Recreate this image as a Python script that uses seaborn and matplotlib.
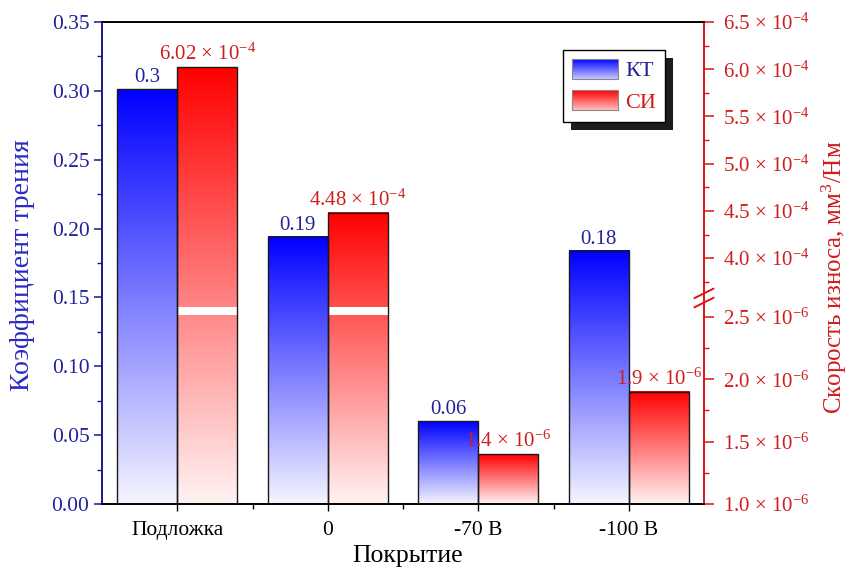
import numpy as np
import pandas as pd
import matplotlib
matplotlib.use("Agg")
import matplotlib.pyplot as plt
import seaborn as sns
from matplotlib.colors import LinearSegmentedColormap
from matplotlib.patches import Rectangle
from matplotlib.legend_handler import HandlerBase
from matplotlib.transforms import IdentityTransform
from matplotlib.ticker import FixedLocator, FuncFormatter, MultipleLocator
from matplotlib.lines import Line2D

# ---------------- data ----------------
categories = ["Подложка", "0", "-70 В", "-100 В"]
series = ["КТ", "СИ"]
kt_values = [0.301, 0.194, 0.060, 0.184]
kt_labels = ["0.3", "0.19", "0.06", "0.18"]
si_values = [6.02e-4, 4.48e-4, 1.4e-6, 1.9e-6]
si_labels = [r"6.02 × 10$^{-4}$", r"4.48 × 10$^{-4}$", r"1.4 × 10$^{-6}$", r"1.9 × 10$^{-6}$"]
left_ticks = [0.00, 0.05, 0.10, 0.15, 0.20, 0.25, 0.30, 0.35]
right_ticks = [1.0e-6, 1.5e-6, 2.0e-6, 2.5e-6, 4.0e-4, 4.5e-4, 5.0e-4, 5.5e-4, 6.0e-4, 6.5e-4]
right_minor = [1.25e-6, 1.75e-6, 2.25e-6, 3.75e-4, 4.25e-4, 4.75e-4, 5.25e-4, 5.75e-4, 6.25e-4]

# ---------------- style ----------------
sns.set_style("ticks")
plt.rcParams["font.family"] = ["Liberation Serif", "DejaVu Serif"]
plt.rcParams["mathtext.fontset"] = "custom"
plt.rcParams["mathtext.rm"] = "Liberation Serif"
plt.rcParams["mathtext.it"] = "Liberation Serif:italic"
plt.rcParams["axes.unicode_minus"] = True

NAVY = "#22229a"
NAVY_SP = "#1a1a86"
NAVY_LAB = "#2a2ac4"
RED = "#cf1d1d"
RED_SP = "#dd1414"

# broken right axis: piecewise-linear scale
LO0, LO1 = 1.0e-6, 2.5e-6
HI0, HI1 = 3.75e-4, 6.5e-4
F_LO1 = 0.388
F_HI_TICK = 0.510          # position of 4.0e-4
S_LO = F_LO1 / (LO1 - LO0)
S_HI = (1.0 - F_HI_TICK) / (HI1 - 4.0e-4)
F_HI0 = 1.0 - (HI1 - HI0) * S_HI


def fwd(v):
    v = np.asarray(v, dtype=float)
    lo = (v - LO0) * S_LO
    hi = 1.0 - (HI1 - v) * S_HI
    mid = F_LO1 + (v - LO1) / (HI0 - LO1) * (F_HI0 - F_LO1)
    return np.where(v <= LO1, lo, np.where(v >= HI0, hi, mid))


def inv(f):
    f = np.asarray(f, dtype=float)
    lo = LO0 + f / S_LO
    hi = HI1 - (1.0 - f) / S_HI
    mid = LO1 + (f - F_LO1) / (F_HI0 - F_LO1) * (HI0 - LO1)
    return np.where(f <= F_LO1, lo, np.where(f >= F_HI0, hi, mid))


df = pd.DataFrame({
    "Покрытие": categories * 2,
    "series": [series[0]] * len(categories) + [series[1]] * len(categories),
    "value": kt_values + si_values,
})

fig = plt.figure(figsize=(8.51, 5.72), dpi=100)
ax = fig.add_axes([102 / 851, 1 - 504 / 572, 602 / 851, 482 / 572])
ax2 = ax.twinx()
ax2.set_yscale("function", functions=(fwd, inv))

pal = {"КТ": "#0000ff", "СИ": "#ff0000"}
sns.barplot(data=df[df.series == "КТ"], x="Покрытие", y="value", hue="series",
            hue_order=series, order=categories, palette=pal, ax=ax, width=0.8,
            dodge=True, legend=False, errorbar=None)
sns.barplot(data=df[df.series == "СИ"], x="Покрытие", y="value", hue="series",
            hue_order=series, order=categories, palette=pal, ax=ax2, width=0.8,
            dodge=True, legend=False, errorbar=None)

YMAX = 0.35
blue_cmap = LinearSegmentedColormap.from_list("b", ["#f5f5ff", "#0000ff"])
red_cmap = LinearSegmentedColormap.from_list("r", ["#fff3f3", "#ff0000"])
grad = np.linspace(0, 1, 256).reshape(-1, 1)

GAP0, GAP1 = 0.392, 0.409  # white break band in axes fraction

kt_bars = list(ax.patches)
si_bars = list(ax2.patches)

VAL_FS = 15
for p, lab in zip(kt_bars, kt_labels):
    x, w, h = p.get_x(), p.get_width(), p.get_height()
    ax.imshow(grad, extent=[x, x + w, 0, h], origin="lower", aspect="auto",
              cmap=blue_cmap, zorder=0.5, interpolation="bilinear")
    p.set_facecolor("none")
    p.set_edgecolor("#1a1a1a")
    p.set_linewidth(1.0)
    p.set_zorder(2)
    ax.annotate(lab, (x + w / 2, h), xytext=(0, 1.5), textcoords="offset points",
                ha="center", va="bottom", color=NAVY, fontsize=VAL_FS)

for p, lab in zip(si_bars, si_labels):
    x, w = p.get_x(), p.get_width()
    top = p.get_y() + p.get_height()
    ftop = float(fwd(top))
    ax.imshow(grad, extent=[x, x + w, 0, ftop * YMAX], origin="lower", aspect="auto",
              cmap=red_cmap, zorder=0.5, interpolation="bilinear")
    if ftop > GAP1:
        ax.add_patch(Rectangle((x, GAP0 * YMAX), w, (GAP1 - GAP0) * YMAX,
                               facecolor="white", edgecolor="none", zorder=1.5))
    p.set_facecolor("none")
    p.set_edgecolor("#1a1a1a")
    p.set_linewidth(1.0)
    p.set_zorder(2)
    ax2.annotate(lab, (x + w / 2, top), xytext=(0, 1.5), textcoords="offset points",
                 ha="center", va="bottom", color=RED, fontsize=VAL_FS)

# limits
ax.set_xlim(-0.5, len(categories) - 0.5)
ax.set_ylim(0, YMAX)
ax2.set_ylim(right_ticks[0], right_ticks[-1])

# left axis
ax.yaxis.set_major_locator(FixedLocator(left_ticks))
ax.yaxis.set_major_formatter(FuncFormatter(lambda v, p: f"{v:.2f}"))
ax.yaxis.set_minor_locator(MultipleLocator(0.025))
ax.tick_params(axis="y", which="major", direction="out", length=6, width=1.1,
               color=NAVY_SP, labelcolor=NAVY, labelsize=15.5, pad=3)
ax.tick_params(axis="y", which="minor", direction="out", length=3.5, width=1.0,
               color=NAVY_SP)
ax.set_ylabel("Коэффициент трения", color=NAVY_LAB, fontsize=20)
ax.yaxis.set_label_coords(-0.111, 0.496)

# x axis
ax.set_xticks(range(len(categories)))
ax.set_xticklabels(categories)
ax.set_xticks([0.5, 1.5, 2.5], minor=True)
ax.tick_params(axis="x", which="major", direction="out", length=5, width=1.0,
               color="black", labelcolor="black", labelsize=15.5, pad=7)
ax.tick_params(axis="x", which="minor", direction="out", length=3.5, width=1.0,
               color="black")
ax.set_xlabel("Покрытие", fontsize=18.5, color="black")
ax.xaxis.set_label_coords(0.507, -0.085)


# right axis
def sci_fmt(v, pos=None):
    e = int(np.floor(np.log10(v) + 1e-9))
    m = v / 10 ** e
    return f"{m:.1f} × 10$^{{{e}}}$"


ax2.yaxis.set_major_locator(FixedLocator(right_ticks))
ax2.yaxis.set_major_formatter(FuncFormatter(sci_fmt))
ax2.yaxis.set_minor_locator(FixedLocator(right_minor))
ax2.tick_params(axis="y", which="major", direction="out", length=7, width=1.1,
                color=RED_SP, labelcolor=RED, labelsize=15, pad=7)
ax2.tick_params(axis="y", which="minor", direction="out", length=3.5, width=1.0,
                color=RED_SP)
ax2.set_ylabel("Скорость износа, мм$^3$/Нм", color=RED, fontsize=18, rotation=90)
ax2.yaxis.set_label_coords(1.193, 0.471)

# spines
for a in (ax, ax2):
    for s in a.spines.values():
        s.set_linewidth(1.2)
        s.set_color("black")
ax.spines["left"].set_color(NAVY_SP)
ax2.spines["left"].set_color(NAVY_SP)
ax2.spines["right"].set_color(RED_SP)
ax.spines["right"].set_color(RED_SP)

# break marks on right spine
for yc in (0.418, 0.437):
    ax2.add_line(Line2D([1 - 0.016, 1 + 0.016], [yc - 0.010, yc + 0.010],
                        transform=ax2.transAxes, color=RED_SP, lw=1.4,
                        clip_on=False, zorder=6))


# legend with gradient handles
class GradientHandler(HandlerBase):
    def __init__(self, cmap, n=40):
        super().__init__()
        self.cmap = cmap
        self.n = n

    def create_artists(self, legend, orig_handle, xdescent, ydescent, width,
                       height, fontsize, trans):
        arts = []
        x0, y0 = -xdescent, -ydescent
        for i in range(self.n):
            c = self.cmap(0.2 + 0.8 * (i + 0.5) / self.n)
            arts.append(Rectangle((x0, y0 + height * i / self.n), width,
                                  height / self.n * 1.1, facecolor=c,
                                  edgecolor="none", transform=trans))
        arts.append(Rectangle((x0, y0), width, height, facecolor="none",
                              edgecolor="#888888", lw=0.8, transform=trans))
        return arts


h_kt = Rectangle((0, 0), 1, 1)
h_si = Rectangle((0, 0), 1, 1)
leg = ax2.legend([h_kt, h_si], series,
                 handler_map={h_kt: GradientHandler(blue_cmap),
                              h_si: GradientHandler(red_cmap)},
                 loc="upper left", bbox_to_anchor=(0.766, 0.942),
                 borderaxespad=0, fancybox=False, framealpha=1,
                 edgecolor="black", fontsize=16, handlelength=2.05,
                 handleheight=1.0, handletextpad=0.35, labelspacing=0.4,
                 borderpad=0.4)
leg.get_frame().set_linewidth(1.0)
leg.get_texts()[0].set_color(NAVY)
leg.get_texts()[1].set_color(RED)

fig.canvas.draw()
bb = leg.get_window_extent()
ax2.add_artist(Rectangle((bb.x0 + 8, bb.y0 - 8), bb.width, bb.height,
                         transform=IdentityTransform(), facecolor="#1c1c1c",
                         edgecolor="none", zorder=4))

fig.savefig("out.png", dpi=100)
